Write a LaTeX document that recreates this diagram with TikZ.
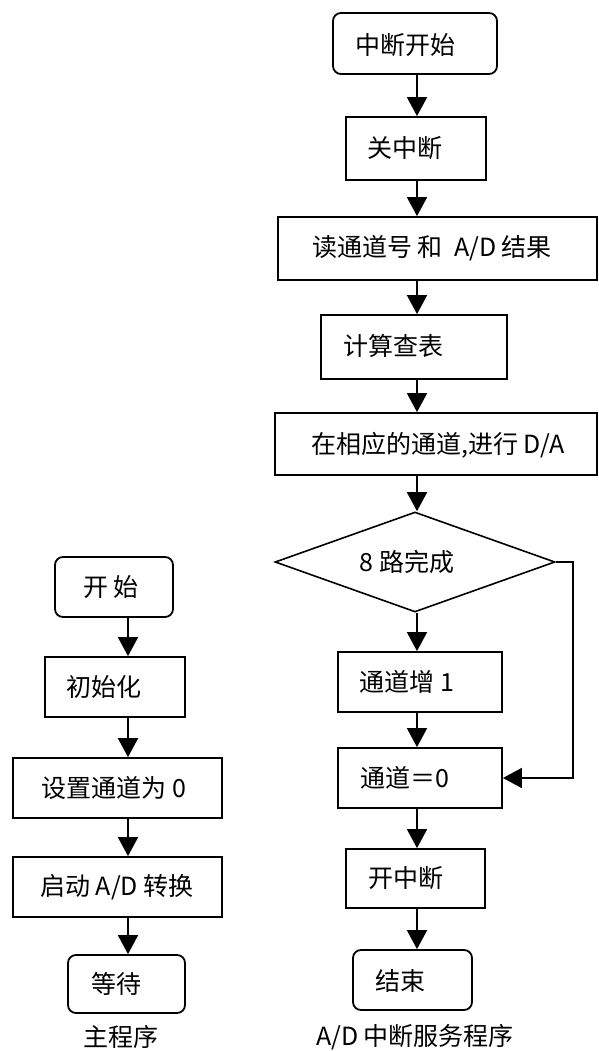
\documentclass[tikz,border=0pt]{standalone}
\usepackage{fontspec}
\setmainfont{Noto Sans CJK SC}
\usetikzlibrary{arrows.meta,shapes.geometric}
\tikzset{
  box/.style={draw=black, line width=1.8pt, inner sep=0pt, fill=white},
  rbox/.style={box, rounded corners=8pt},
  dia/.style={draw=black, line width=1.6pt, shape=diamond, inner sep=0pt},
  lbl/.style={font=\fontsize{25}{28}\selectfont, inner sep=0pt, text=black},
  arr/.style={draw=black, line width=1.8pt, -{Triangle[width=20pt,length=19pt]}},
  ln/.style={draw=black, line width=1.8pt}
}
\begin{document}
\begin{tikzpicture}[x=1pt,y=-1pt]
\useasboundingbox[fill=white] (0,0) rectangle (599,1051);
% right column boxes
\node[rbox, minimum width=164pt, minimum height=61pt] (s1) at (415,43.5) {};
\node[box, minimum width=140pt, minimum height=63pt] (b2) at (416,148.5) {};
\node[box, minimum width=319pt, minimum height=63pt] (b3) at (437.5,248.5) {};
\node[box, minimum width=186pt, minimum height=64pt] (b4) at (414,347) {};
\node[box, minimum width=322pt, minimum height=62pt] (b5) at (436,444) {};
\node[dia, minimum width=280pt, minimum height=100pt] (d6) at (415,562) {};
\node[box, minimum width=164pt, minimum height=60pt] (b7) at (420,682) {};
\node[box, minimum width=164pt, minimum height=60pt] (b8) at (420,778) {};
\node[box, minimum width=139pt, minimum height=59pt] (b9) at (415.5,878.5) {};
\node[rbox, minimum width=119pt, minimum height=60pt] (e10) at (412.5,980) {};
% right column texts
\node[lbl] (t1) at (405,45) {中断开始};
\node[lbl] (t2) at (405,148) {关中断};
\node[lbl] (t3) at (432,248) {读通道号\ 和\ \ A/D 结果};
\node[lbl] (t4) at (393,346) {计算查表};
\node[lbl] (t5) at (438,445) {在相应的通道,进行 D/A};
\node[lbl] (t6) at (407,562) {8 路完成};
\node[lbl] (t7) at (407,682) {通道增 1};
\node[lbl] (t8) at (405,778) {通道＝0};
\node[lbl] (t9) at (406,878) {开中断};
\node[lbl] (t10) at (400,981) {结束};
\node[lbl] (cap2) at (415,1037) {A/D 中断服务程序};
% right column arrows
\coordinate (ax) at (417,0);
\draw[arr] (s1.south -| ax) -- (b2.north -| ax);
\draw[arr] (b2.south -| ax) -- (b3.north -| ax);
\draw[arr] (b3.south -| ax) -- (b4.north -| ax);
\draw[arr] (b4.south -| ax) -- (b5.north -| ax);
\draw[arr] (b5.south -| ax) -- (d6.north -| ax);
\draw[arr] (d6.south -| ax) -- (b7.north -| ax);
\draw[arr] (b7.south -| ax) -- (b8.north -| ax);
\draw[arr] (b8.south -| ax) -- (b9.north -| ax);
\draw[arr] (b9.south -| ax) -- (e10.north -| ax);
\coordinate (lp) at (573,0);
\draw[arr] (d6.east) -- (d6.east -| lp) -- (b8.east -| lp) -- (b8.east);
% left column
\node[rbox, minimum width=118pt, minimum height=60pt] (L1) at (114,587) {};
\node[box, minimum width=140pt, minimum height=60pt] (L2) at (115,687) {};
\node[box, minimum width=209pt, minimum height=60pt] (L3) at (117.5,788) {};
\node[box, minimum width=209pt, minimum height=60pt] (L4) at (117.5,887) {};
\node[rbox, minimum width=117pt, minimum height=58pt] (L5) at (126.5,984) {};
\node[lbl] (u1) at (111,587) {开\ 始};
\node[lbl] (u2) at (104,687) {初始化};
\node[lbl] (u3) at (114,788) {设置通道为 0};
\node[lbl] (u4) at (117,887) {启动 A/D 转换};
\node[lbl] (u5) at (116,984) {等待};
\node[lbl] (cap1) at (121,1037) {主程序};
\coordinate (bx) at (128,0);
\draw[arr] (L1.south -| bx) -- (L2.north -| bx);
\draw[arr] (L2.south -| bx) -- (L3.north -| bx);
\draw[arr] (L3.south -| bx) -- (L4.north -| bx);
\draw[arr] (L4.south -| bx) -- (L5.north -| bx);
\end{tikzpicture}
\end{document}
